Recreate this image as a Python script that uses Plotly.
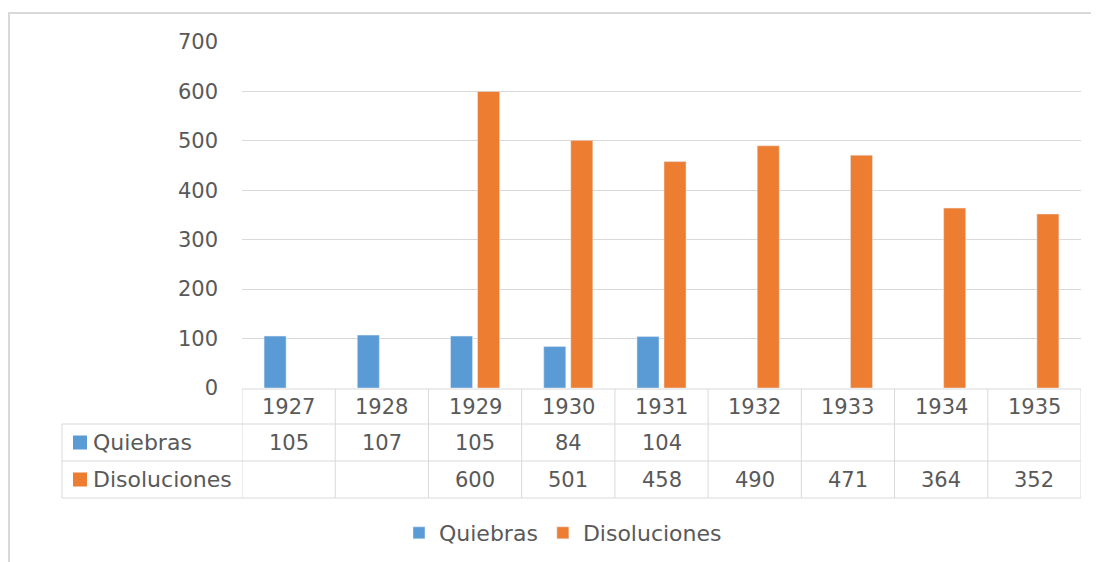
import plotly.graph_objects as go

W, H = 1099, 562
OFF = 8  # page body margin

years = ["1927", "1928", "1929", "1930", "1931", "1932", "1933", "1934", "1935"]
quiebras = [105, 107, 105, 84, 104, None, None, None, None]
disoluciones = [None, None, 600, 501, 458, 490, 471, 364, 352]
y_ticks = [0, 100, 200, 300, 400, 500, 600, 700]

BLUE = "#5B9BD5"
ORANGE = "#ED7D31"
TEXT = "#595959"
GRID = "#D9D9D9"
FONT = "DejaVu Sans"
FS = 21


def px_x(p):
    return (p - OFF) / W


def px_y(p):
    return 1 - (p - OFF) / H


fig = go.Figure()
fig.add_trace(go.Bar(x=years, y=quiebras, name="Quiebras", marker_color=BLUE))
fig.add_trace(go.Bar(x=years, y=disoluciones, name="Disoluciones", marker_color=ORANGE))

# plot area in screen pixels
left, right, top, bottom = 242, 1081, 42, 388
row_lines = [389, 424, 461, 498]

shapes = []
annotations = []

# outer chart border
shapes.append(dict(type="rect", xref="paper", yref="paper",
                   x0=px_x(9), x1=px_x(1115), y0=px_y(580), y1=px_y(13),
                   line=dict(color=GRID, width=2), layer="below"))

# data table: horizontal lines
shapes.append(dict(type="line", xref="paper", yref="paper",
                   x0=px_x(left), x1=px_x(right), y0=px_y(row_lines[0]), y1=px_y(row_lines[0]),
                   line=dict(color=GRID, width=1)))
for r in row_lines[1:]:
    shapes.append(dict(type="line", xref="paper", yref="paper",
                       x0=px_x(62), x1=px_x(right), y0=px_y(r), y1=px_y(r),
                       line=dict(color=GRID, width=1)))
# vertical lines at category boundaries
for i in range(len(years) + 1):
    shapes.append(dict(type="line", xref="x", yref="paper",
                       x0=i - 0.5, x1=i - 0.5, y0=px_y(row_lines[0]), y1=px_y(row_lines[-1]),
                       line=dict(color=GRID, width=1)))
shapes.append(dict(type="line", xref="paper", yref="paper",
                   x0=px_x(62), x1=px_x(62), y0=px_y(row_lines[1]), y1=px_y(row_lines[-1]),
                   line=dict(color=GRID, width=1)))

row_centers = [(row_lines[k] + row_lines[k + 1]) / 2 for k in range(3)]
cell_font = dict(size=FS, color=TEXT, family=FONT)
word_font = dict(size=22, color=TEXT, family=FONT)

# years header
for i, yr in enumerate(years):
    annotations.append(dict(x=i, xref="x", y=px_y(row_centers[0]), yref="paper",
                            xanchor="center", yanchor="middle",
                            text=yr, showarrow=False, font=cell_font))

# series rows
for k, (name, vals, col) in enumerate([("Quiebras", quiebras, BLUE),
                                       ("Disoluciones", disoluciones, ORANGE)]):
    cy = row_centers[k + 1]
    shapes.append(dict(type="rect", xref="paper", yref="paper",
                       x0=px_x(73), x1=px_x(87), y0=px_y(cy + 7), y1=px_y(cy - 7),
                       fillcolor=col, line=dict(width=0)))
    annotations.append(dict(x=px_x(91), xref="paper", y=px_y(cy), yref="paper",
                            text=name, showarrow=False, xanchor="left", yanchor="middle",
                            font=word_font))
    for i, v in enumerate(vals):
        if v is None:
            continue
        annotations.append(dict(x=i, xref="x", y=px_y(cy), yref="paper",
                                xanchor="center", yanchor="middle",
                                text=str(v), showarrow=False, font=cell_font))

fig.update_layout(
    width=W, height=H,
    margin=dict(l=0, r=0, t=0, b=0, autoexpand=False),
    paper_bgcolor="white", plot_bgcolor="white",
    barmode="group", bargap=0.42, bargroupgap=0.185,
    font=dict(family=FONT, size=FS, color=TEXT),
    xaxis=dict(type="category", domain=[px_x(left), px_x(right)], range=[-0.5, len(years) - 0.5],
               showticklabels=False, showgrid=False, zeroline=False, showline=False),
    yaxis=dict(domain=[px_y(bottom), px_y(top)], range=[0, 700],
               tickvals=y_ticks, showgrid=True, gridcolor=GRID, gridwidth=1,
               zeroline=False, showline=False, ticklabelstandoff=23,
               tickfont=cell_font),
    legend=dict(orientation="h", x=px_x(563), xanchor="center", y=px_y(533), yanchor="middle",
                font=word_font, itemwidth=30),
    shapes=shapes,
    annotations=annotations,
)

fig.write_html("out.html")
